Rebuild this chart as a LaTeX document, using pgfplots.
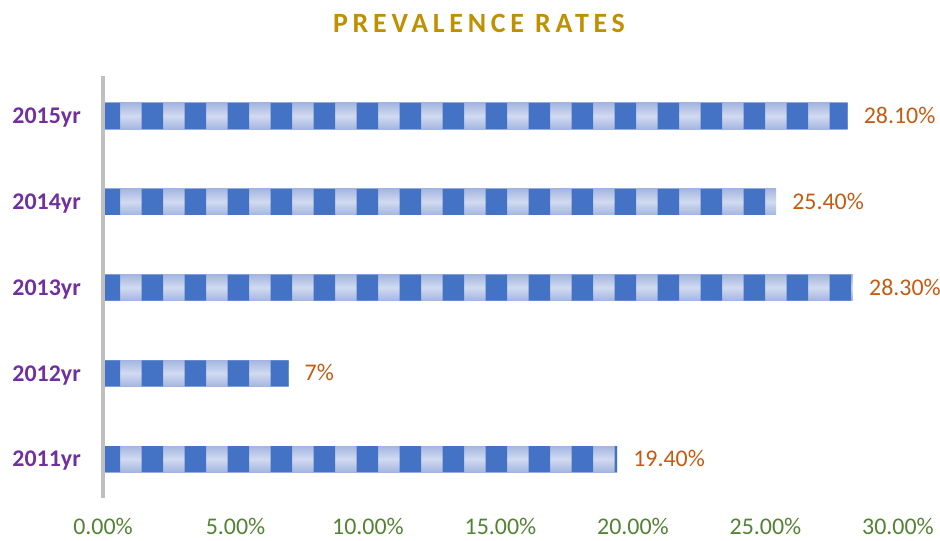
\documentclass[border=0pt]{standalone}
\usepackage{pgfplots}
\pgfplotsset{compat=1.18}
\usepackage{pgfplotstable}
\usepackage{fontspec}
\setmainfont{Carlito}
\newfontfamily\titlefont[LetterSpace=17]{Carlito}
\usetikzlibrary{patterns}

\definecolor{barblue}{HTML}{4472C4}
\definecolor{bandedge}{HTML}{A4B6E0}
\definecolor{bandmid}{HTML}{D1DAF0}
\definecolor{titlegold}{HTML}{BF9000}
\definecolor{yearpurple}{HTML}{7030A0}
\definecolor{tickgreen}{HTML}{548235}
\definecolor{valorange}{HTML}{C55A11}
\definecolor{linegray}{HTML}{BFBFBF}

% vertical stripes, 43bp period, 22bp solid
\pgfdeclarepatternformonly{stripes43}{\pgfpointorigin}{\pgfpoint{43bp}{600bp}}{\pgfpoint{43bp}{600bp}}%
{\pgfpathrectangle{\pgfpoint{13bp}{0bp}}{\pgfpoint{22bp}{600bp}}\pgfusepath{fill}}

\pgfplotstableread{
y x label
1 19.4 19.40\%
2 7.0  7\%
3 28.3 28.30\%
4 25.4 25.40\%
5 28.1 28.10\%
}\rates

\begin{document}
\begin{tikzpicture}
\begin{axis}[
  name=A,
  scale only axis,
  width=795bp, height=421.9bp,
  xmin=0, xmax=30,
  ymin=0.55, ymax=5.47,
  axis lines*=left,
  x axis line style={draw=none},
  y axis line style={draw=linegray, line width=4bp},
  axis on top,
  major tick length=0pt,
  xtick={0,5,...,30},
  xticklabels={0.00\%,5.00\%,10.00\%,15.00\%,20.00\%,25.00\%,30.00\%},
  ytick={1,2,3,4,5},
  yticklabels={2011yr,2012yr,2013yr,2014yr,2015yr},
  xticklabel style={font=\fontsize{24}{28}\selectfont, text=tickgreen, anchor=base, inner sep=0pt, yshift=-37bp},
  yticklabel style={font=\fontsize{24}{28}\selectfont\bfseries, text=yearpurple, anchor=base east, inner sep=0pt, xshift=-22bp, yshift=-7.8bp},
  clip=false,
  xbar, bar width=26bp, bar shift=0pt,
  bandbar/.style={draw=none, top color=bandedge, bottom color=bandedge, middle color=bandmid},
]
% light banded background, one bar per plot so each gets its own gradient
\addplot[bandbar] coordinates {(19.4,1)};
\addplot[bandbar] coordinates {(7.0,2)};
\addplot[bandbar] coordinates {(28.3,3)};
\addplot[bandbar] coordinates {(25.4,4)};
\addplot[bandbar] coordinates {(28.1,5)};
% solid stripes and value labels
\addplot[draw=none, fill=none, pattern=stripes43, pattern color=barblue,
  point meta=explicit symbolic,
  nodes near coords,
  every node near coord/.append style={font=\fontsize{24}{28}\selectfont, text=valorange, anchor=base west, inner sep=0pt, xshift=16bp, yshift=-7.5bp}]
  table[x=x, y=y, meta=label] {\rates};
\end{axis}
\node[font=\titlefont\fontsize{28}{32}\selectfont\bfseries, text=titlegold, anchor=base, inner sep=0pt]
  at ([shift={(376bp,465.3bp)}]A.south west) {PREVALENCE RATES};
\pgfresetboundingbox
\path ([shift={(-103bp,-43.4bp)}]A.south west) rectangle ([shift={(42bp,75.7bp)}]A.north east);
\end{tikzpicture}
\end{document}
